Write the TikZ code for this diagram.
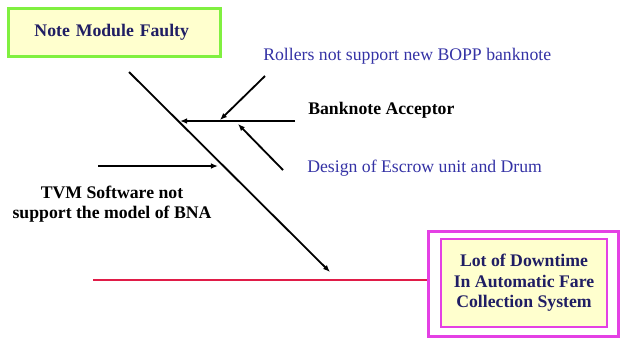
\documentclass[tikz,border=0pt]{standalone}
\usepackage{fontspec}
\setmainfont{Liberation Serif}
\usetikzlibrary{arrows.meta}
\definecolor{boxtext}{RGB}{32,30,100}
\definecolor{causeblue}{RGB}{52,50,165}
\definecolor{limegreen}{RGB}{128,240,64}
\definecolor{paleyellow}{RGB}{255,255,206}
\definecolor{pinkline}{RGB}{228,64,228}
\definecolor{spinered}{RGB}{224,28,72}
\tikzset{
  bone/.style={line width=1.3pt, -{Latex[length=5pt,width=4pt]}},
  cause/.style={font=\fontsize{12.6}{14}\selectfont, text=causeblue, inner sep=0},
  group/.style={font=\fontsize{12.6}{14.5}\selectfont\bfseries, inner sep=0, align=center},
}
\begin{document}
\begin{tikzpicture}[x=0.025cm, y=-0.025cm]
\useasboundingbox (0,0) rectangle (622,338);
                \node[draw=limegreen, line width=2pt, fill=paleyellow, minimum width=5.3cm, minimum height=1.2cm, text=boxtext, group, inner xsep=0, text width=4.9cm, align=left](fault) at (114.5,32.5) {\hspace*{0.45cm}Note Module Faulty};
                \node[draw=pinkline, line width=2pt, fill=white, minimum width=4.75cm, minimum height=2.63cm](outer) at (523.5,284) {};
                \node[draw=pinkline, line width=2pt, fill=paleyellow, minimum width=4.15cm, minimum height=2.2cm, text=boxtext, group](effect) at (524,283) {Lot of Downtime\\In Automatic Fare\\Collection System};
\coordinate (redstart) at (93,280);
\draw[line width=2pt, spinered] (redstart) -- (redstart -| outer.west);
% main bone into the effect line
\coordinate (top) at (129,72);
\coordinate (tip) at (330,272);
\draw[bone] (top) -- (tip);
                                    \node[group, anchor=west](acceptor) at (308,110) {Banknote Acceptor};
                                    \coordinate (accstart) at (295,121);
                                    \coordinate (accend) at (180,121);
\draw[bone] (accstart) -- (accend);
                                    \node[cause, anchor=west](rollers) at (263,56) {Rollers not support new BOPP banknote};
                                    \coordinate (rolstart) at (265,76);
                                    \coordinate (rolend) at (220,120);
\draw[bone] (rolstart) -- (rolend);
                                    \node[cause, anchor=west](design) at (307,168) {Design of Escrow unit and Drum};
                                    \coordinate (desstart) at (283,170);
                                    \coordinate (desend) at (238,124);
\draw[bone] (desstart) -- (desend);
                                    \node[group](tvm) at (112,204) {TVM Software not\\support the model of BNA};
                                    \coordinate (tvmstart) at (98,166);
                                    \coordinate (tvmend) at (218,166);
\draw[bone] (tvmstart) -- (tvmend);

        \end{tikzpicture}
\end{document}
